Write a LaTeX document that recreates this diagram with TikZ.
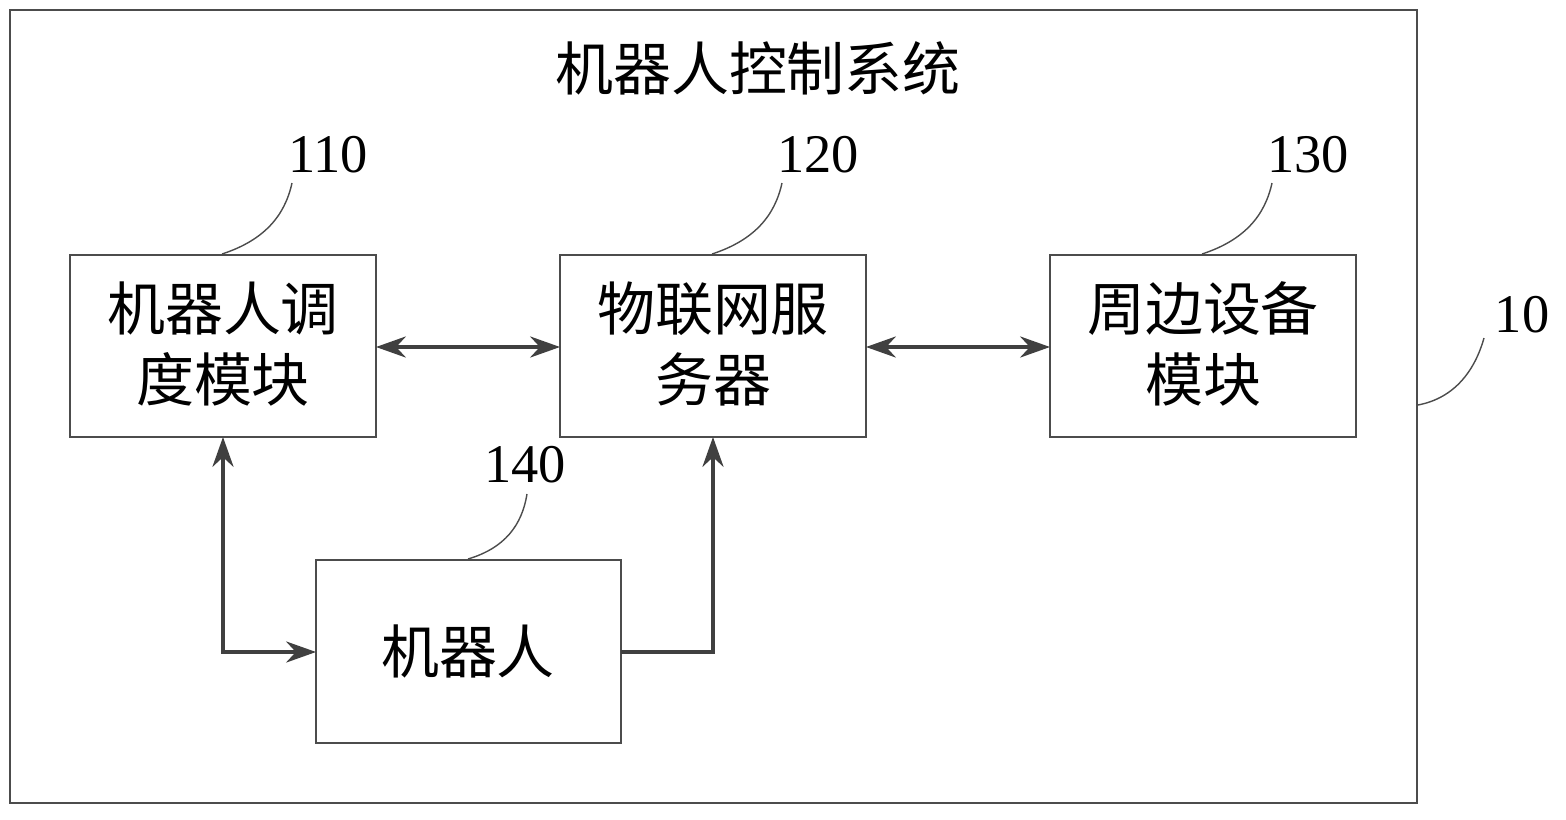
\documentclass[tikz,border=0pt]{standalone}
\usepackage{fontspec}
\setmainfont{Liberation Serif}
\newfontfamily\cjk{Noto Sans CJK SC}
\usetikzlibrary{arrows.meta}
\begin{document}
\begin{tikzpicture}[x=0.02cm,y=-0.02cm,
 box/.style={draw=black!70,line width=0.8pt},
 txt/.style={font=\cjk\fontsize{33}{40}\selectfont,align=center},
 num/.style={font=\fontsize{31}{32}\selectfont},
 arr/.style={draw=black!75,line width=2pt,{Stealth[length=17pt,width=12pt]}-{Stealth[length=17pt,width=12pt]}},
 arrs/.style={draw=black!75,line width=2pt,-{Stealth[length=17pt,width=12pt]}},
 lead/.style={draw=black!70,line width=0.8pt}]
\useasboundingbox (0,0) rectangle (1566,819);
\draw[box] (10,10) rectangle (1417,803);
\node[txt,font=\cjk\fontsize{33}{40}\selectfont] (title) at (758,68) {机器人控制系统};
\draw[box] (70,255) rectangle (376,437); \node[txt] (a) at (223,344) {机器人调\\度模块};
\draw[box] (560,255) rectangle (866,437); \node[txt] (b) at (713,344) {物联网服\\务器};
\draw[box] (1050,255) rectangle (1356,437); \node[txt] (c) at (1203,344) {周边设备\\模块};
\draw[box] (316,560) rectangle (621,743); \node[txt] (d) at (468,651) {机器人};
\coordinate (aR) at (376,347); \coordinate (bL) at (560,347);
\coordinate (bR) at (866,347); \coordinate (cL) at (1050,347);
\coordinate (aB) at (223,437); \coordinate (dL) at (316,652);
\coordinate (dR) at (621,652); \coordinate (bB) at (713,437);
\draw[arr] (aR) -- (bL);
\draw[arr] (bR) -- (cL);
\draw[arr] (aB) |- (dL);
\draw[arrs] (dR) -| (bB);
\node[num] (n110) at (328,155) {110};
\node[num] (n120) at (818,155) {120};
\node[num] (n130) at (1308,155) {130};
\node[num] (n140) at (525,465) {140};
\node[num] (n10) at (1522,315) {10};
\draw[lead] (222,254) .. controls (265,240) and (285,215) .. (292,183);
\draw[lead] (712,254) .. controls (755,240) and (775,215) .. (782,183);
\draw[lead] (1202,254) .. controls (1245,240) and (1265,215) .. (1272,183);
\draw[lead] (468,559) .. controls (505,548) and (522,525) .. (527,494);
\draw[lead] (1418,405) .. controls (1455,398) and (1475,370) .. (1484,338);
\end{tikzpicture}
\end{document}
